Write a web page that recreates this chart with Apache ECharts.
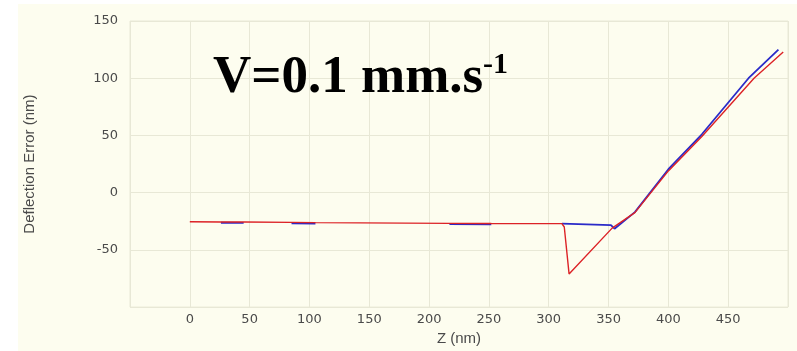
<!DOCTYPE html>
<html>
<head>
<meta charset="utf-8">
<script src="https://cdn.jsdelivr.net/npm/echarts@6/dist/echarts.min.js"></script>
<style>
html,body{margin:0;padding:0;background:#ffffff;overflow:hidden;}
#bg{position:absolute;left:18px;top:4px;right:0;bottom:0;background:#FDFDEF;}
#chart{position:absolute;left:0;top:0;width:797px;height:351px;}
</style>
</head>
<body>
<div id="bg"></div>
<div id="chart"></div>
<script>
// Approach (blue) curve: Z (nm), deflection error (nm); null = hidden under the red trace
var blueZ = [26, 45, 46, 85, 105, 106, 217, 252, 253, 311, 352, 355, 372, 400, 428, 467, 492];
var blueD = [-26.3, -26.4, null, -26.8, -27.0, null, -27.5, -27.7, null, -27.1, -28.4, -31.5, -17, 20.5, 51, 100, 125];
// Retract (red) curve
var redZ = [0, 26, 45, 85, 105, 217, 252, 311, 313, 317, 353, 372, 400, 428, 471.6, 496];
var redD = [-25.4, -25.6, -25.7, -26.0, -26.2, -26.8, -27.0, -27.1, -30, -71, -31, -17.5, 19, 49, 100, 123];
// Axis ticks
var xTicks = [0, 50, 100, 150, 200, 250, 300, 350, 400, 450];
var yTicks = [-50, 0, 50, 100, 150];

function pairs(xs, ys) { return xs.map(function (x, i) { return ys[i] === null ? [x, null] : [x, ys[i]]; }); }

var chart = echarts.init(document.getElementById('chart'), null, {renderer: 'canvas'});
var gridCol = '#E8E8D6';
var labelFont = {color: '#4a4a4a', fontFamily: 'DejaVu Sans', fontSize: 13};
chart.setOption({
  backgroundColor: 'transparent',
  animation: false,
  grid: {left: 130, right: 9, top: 21, bottom: 36, show: true, borderColor: gridCol, borderWidth: 1},
  xAxis: {
    type: 'value', min: -50, max: 500, interval: 50,
    name: 'Z (nm)', nameLocation: 'middle', nameGap: 23,
    nameTextStyle: {color: '#4a4a4a', fontFamily: 'Liberation Sans', fontSize: 15},
    axisLine: {show: false}, axisTick: {show: false},
    axisLabel: Object.assign({margin: 6, showMinLabel: false, showMaxLabel: false,
      formatter: function (v) { return xTicks.indexOf(v) >= 0 ? String(v) : ''; }}, labelFont),
    splitLine: {show: true, lineStyle: {color: gridCol, width: 1}}
  },
  yAxis: {
    type: 'value', min: -100, max: 150, interval: 50,
    name: 'Deflection Error (nm)', nameLocation: 'middle', nameGap: 93, nameRotate: 90,
    nameTextStyle: {color: '#4a4a4a', fontFamily: 'Liberation Sans', fontSize: 15},
    axisLine: {show: false}, axisTick: {show: false},
    axisLabel: Object.assign({margin: 12, showMinLabel: false,
      formatter: function (v) { return yTicks.indexOf(v) >= 0 ? String(v) : ''; }}, labelFont),
    splitLine: {show: true, lineStyle: {color: gridCol, width: 1}}
  },
  series: [
    {type: 'line', data: pairs(blueZ, blueD), showSymbol: false, connectNulls: false, z: 3,
     lineStyle: {color: '#2A2AC8', width: 1.8}},
    {type: 'line', data: pairs(redZ, redD), showSymbol: false, z: 4,
     lineStyle: {color: '#DC2226', width: 1.4}}
  ],
  graphic: [
    {type: 'text', left: 213, top: 52, z: 10,
     style: {text: 'V=0.1 mm.s', font: 'bold 53px "Liberation Serif"', fill: '#000'}},
    {type: 'text', left: 483, top: 50, z: 10,
     style: {text: '-1', font: 'bold 30px "Liberation Serif"', fill: '#000'}}
  ]
});
</script>
</body>
</html>
